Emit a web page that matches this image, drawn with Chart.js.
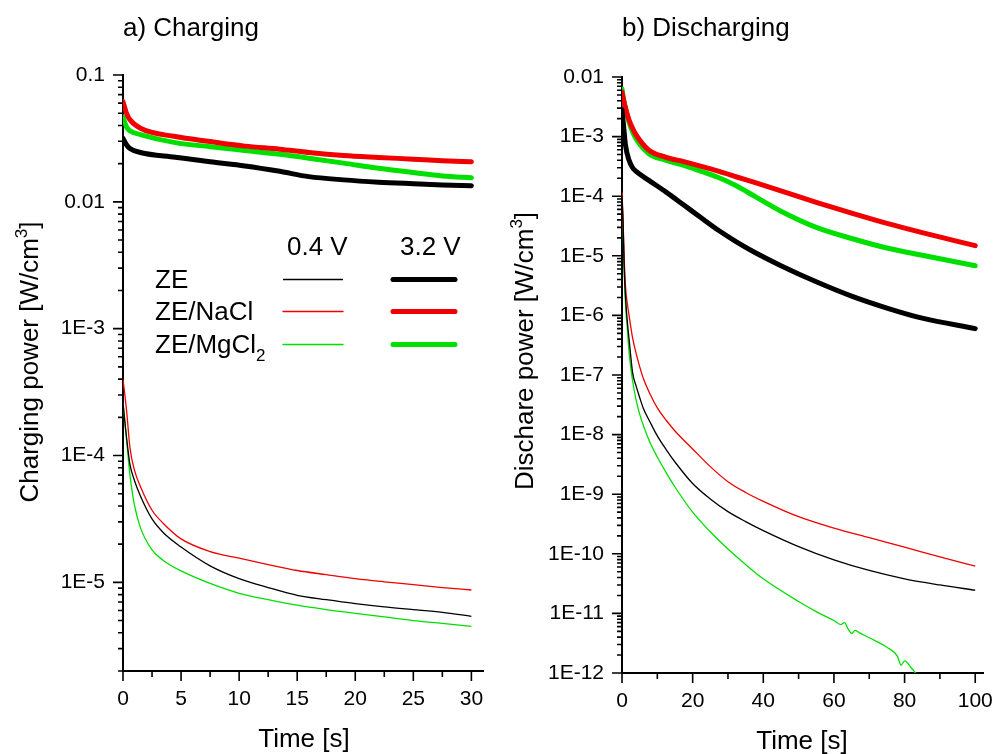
<!DOCTYPE html>
<html>
<head>
<meta charset="utf-8">
<script src="https://cdn.jsdelivr.net/npm/chart.js@4.4.1/dist/chart.umd.min.js"></script>
<style>
  html, body { margin: 0; padding: 0; background: #fff; }
  #wrap { position: relative; width: 993px; height: 754px; overflow: hidden; }
  canvas { position: absolute; top: 0; }
  #chargeChart { left: 0; width: 493px; height: 754px; }
  #dischargeChart { left: 493px; width: 500px; height: 754px; }
</style>
</head>
<body>
<div id="wrap">
  <canvas id="chargeChart" width="493" height="754"></canvas>
  <canvas id="dischargeChart" width="500" height="754"></canvas>
</div>
<script>
// ---- data ----
// a) charging, 3.2 V (thick)
const timeCharge = [0, 0.3, 0.6, 1.5, 4.5, 7.5, 10.5, 13.5, 16, 19, 22, 25, 27.5, 30];
const chargeZE32 = [0.0316, 0.0282, 0.0263, 0.0245, 0.0225, 0.0207, 0.0192, 0.0174, 0.0158, 0.0149, 0.0143, 0.0139, 0.0136, 0.0134];
const chargeNaCl32 = [0.0617, 0.050, 0.0443, 0.038, 0.0327, 0.0299, 0.0275, 0.026, 0.0245, 0.0232, 0.0224, 0.0217, 0.0211, 0.0207];
const chargeMgCl32 = [0.0468, 0.039, 0.0363, 0.0339, 0.0293, 0.0272, 0.0254, 0.0237, 0.0221, 0.0202, 0.0184, 0.017, 0.016, 0.0155];

// a) charging, 0.4 V (thin)
const timeChargeThin = [0, 0.3, 0.6, 1, 1.5, 2.5, 3.5, 5, 7.5, 10, 12.5, 15, 17.5, 20, 22.5, 25, 27.5, 30];
const chargeZE04 = [2.6e-4, 1.4e-4, 8.5e-5, 6.3e-5, 4.8e-5, 3.16e-5, 2.45e-5, 1.9e-5, 1.35e-5, 1.07e-5, 9.1e-6, 7.9e-6, 7.3e-6, 6.8e-6, 6.4e-6, 6.1e-6, 5.8e-6, 5.4e-6];
const chargeNaCl04 = [4.0e-4, 2.3e-4, 1.15e-4, 7.6e-5, 5.7e-5, 3.7e-5, 2.9e-5, 2.2e-5, 1.75e-5, 1.55e-5, 1.38e-5, 1.24e-5, 1.15e-5, 1.07e-5, 1.01e-5, 9.6e-6, 9.1e-6, 8.7e-6];
const chargeMgCl04 = [2.6e-4, 1.35e-4, 7e-5, 4.0e-5, 2.7e-5, 1.8e-5, 1.48e-5, 1.23e-5, 9.8e-6, 8.2e-6, 7.3e-6, 6.6e-6, 6.1e-6, 5.7e-6, 5.35e-6, 5.0e-6, 4.75e-6, 4.5e-6];

// b) discharging, 3.2 V (thick)
const timeDisThick = [0, 0.5, 1, 2, 3, 4, 7.5, 12.5, 17.5, 22.5, 27.5, 32.5, 37.5, 45, 55, 65, 75, 85, 100];
const disZE32 = [2.8e-3, 1.4e-3, 7.1e-4, 4.0e-4, 3.0e-4, 2.6e-4, 1.86e-4, 1.17e-4, 7.1e-5, 4.3e-5, 2.63e-5, 1.7e-5, 1.15e-5, 6.84e-6, 3.67e-6, 2.11e-6, 1.33e-6, 9.0e-7, 6.0e-7];
const disNaCl32 = [5.6e-3, 4.0e-3, 3.0e-3, 1.9e-3, 1.38e-3, 1.07e-3, 6.0e-4, 4.5e-4, 3.8e-4, 3.16e-4, 2.6e-4, 2.1e-4, 1.7e-4, 1.23e-4, 7.9e-5, 5.2e-5, 3.5e-5, 2.45e-5, 1.48e-5];
const disMgCl32 = [6.3e-3, 4.0e-3, 2.95e-3, 1.74e-3, 1.2e-3, 9.1e-4, 5.2e-4, 4.0e-4, 3.3e-4, 2.6e-4, 2.04e-4, 1.48e-4, 1.0e-4, 5.6e-5, 3.0e-5, 1.95e-5, 1.35e-5, 1.02e-5, 6.8e-6];

// b) discharging, 0.4 V (thin)
const timeDisThin = [0, 0.3, 0.6, 1, 1.5, 2, 3, 4, 5, 6, 8, 10, 12.5, 15, 20, 25, 30, 35, 40, 50, 60, 70, 80, 90, 100];
const disZE04 = [1e-4, 3.5e-5, 7e-6, 2e-6, 8e-7, 4e-7, 1.1e-7, 6.5e-8, 4.2e-8, 2.8e-8, 1.6e-8, 9.5e-9, 5.6e-9, 3.47e-9, 1.51e-9, 8.3e-10, 5.1e-10, 3.47e-10, 2.45e-10, 1.32e-10, 7.9e-11, 5.25e-11, 3.8e-11, 3.0e-11, 2.45e-11];
const disNaCl04 = [1.2e-4, 4e-5, 1e-5, 3e-6, 1.6e-6, 1e-6, 4.2e-7, 2.3e-7, 1.38e-7, 8.9e-8, 4.7e-8, 2.8e-8, 1.74e-8, 1.15e-8, 5.75e-9, 2.9e-9, 1.62e-9, 1.07e-9, 7.6e-10, 4.2e-10, 2.7e-10, 1.86e-10, 1.29e-10, 8.9e-11, 6.2e-11];
const timeDisGreen = [0, 0.3, 0.6, 1, 1.5, 2, 3, 4, 5, 6, 8, 10, 12.5, 15, 20, 25, 30, 35, 40, 50, 55, 60, 62, 63, 64, 65, 66, 67, 70, 75, 78, 79, 80, 82, 84];
const disMgCl04 = [1e-4, 3e-5, 6e-6, 1.5e-6, 6e-7, 2.4e-7, 8e-8, 3.8e-8, 2.2e-8, 1.45e-8, 7.2e-9, 4.2e-9, 2.3e-9, 1.32e-9, 5.0e-10, 2.34e-10, 1.2e-10, 6.6e-11, 3.8e-11, 1.58e-11, 1.07e-11, 7.6e-12, 6.5e-12, 7e-12, 5.5e-12, 4.6e-12, 5.2e-12, 4.8e-12, 3.9e-12, 2.7e-12, 1.9e-12, 1.35e-12, 1.6e-12, 1.2e-12, 8.5e-13];

const FONT = 'Arial, "Liberation Sans", sans-serif';
const RED = '#f00000';
const GREEN = '#00e000';
const BLACK = '#000000';

function pairs(xs, ys) {
    return xs.map(function(x, i) { return { x: x, y: ys[i] }; });
}

function thin(data, color) {
    return { data: data, borderColor: color, borderWidth: 1.3, pointRadius: 0, fill: false };
}
function thick(data, color) {
    return { data: data, borderColor: color, borderWidth: 5, pointRadius: 0, fill: false,
             borderCapStyle: 'round', borderJoinStyle: 'round' };
}

// log axis: all 1..9 x 10^n positions, labels only on decades
function logTicks(scale) {
    const lo = Math.floor(Math.log10(scale.min));
    const hi = Math.ceil(Math.log10(scale.max));
    const ticks = [];
    for (let e = lo; e <= hi; e++) {
        for (let d = 1; d <= 9; d++) {
            const v = Number((d * Math.pow(10, e)).toPrecision(6));
            if (v >= scale.min * 0.999 && v <= scale.max * 1.001) ticks.push({ value: v });
        }
    }
    scale.ticks = ticks;
}
function logLabel(v) {
    const e = Math.log10(v);
    if (Math.abs(e - Math.round(e)) > 1e-6) return '';
    const n = Math.round(e);
    return n >= -2 ? String(Number(v.toPrecision(3))) : '1E' + n;
}
function linTicks(maxTick, step) {
    return function(scale) {
        const ticks = [];
        for (let v = 0; v <= maxTick + 1e-9; v += step) ticks.push({ value: v });
        scale.ticks = ticks;
    };
}

// draw text made of pieces (superscript / subscript)
function richText(ctx, parts, x, y, align) {
    let total = 0;
    parts.forEach(function(p) { ctx.font = p.font; p.w = ctx.measureText(p.text).width; total += p.w; });
    let cx = align === 'center' ? x - total / 2 : x;
    parts.forEach(function(p) {
        ctx.font = p.font;
        ctx.fillText(p.text, cx, y + (p.dy || 0));
        cx += p.w;
    });
}

// Origin-like tick marks: long for labelled ticks, short for minor ones
const originAxes = {
    id: 'originAxes',
    afterDraw: function(chart) {
        const ctx = chart.ctx, area = chart.chartArea;
        const xs = chart.scales.x, ys = chart.scales.y;
        ctx.save();
        ctx.strokeStyle = '#000';
        ctx.lineWidth = 1.6;
        ctx.beginPath();
        xs.ticks.forEach(function(t) {
            const p = xs.getPixelForValue(t.value);
            const len = t.label ? 10 : 6;
            ctx.moveTo(p, area.bottom);
            ctx.lineTo(p, area.bottom + len);
        });
        ys.ticks.forEach(function(t) {
            const p = ys.getPixelForValue(t.value);
            const len = t.label ? 10 : 5;
            ctx.moveTo(area.left - len, p);
            ctx.lineTo(area.left, p);
        });
        ctx.stroke();
        ctx.restore();
    }
};

const panelText = {
    id: 'panelText',
    afterDraw: function(chart, args, opts) {
        const ctx = chart.ctx;
        const big = '26px ' + FONT;
        const sup = '17px ' + FONT;
        ctx.save();
        ctx.fillStyle = '#000';
        ctx.textBaseline = 'alphabetic';
        ctx.textAlign = 'left';

        ctx.font = big;
        ctx.fillText(opts.title, opts.titleX, 36);

        richText(ctx, [{ text: 'Time [s]', font: big }], opts.xTitleX, opts.xTitleY, 'center');

        ctx.translate(opts.yTitleX, opts.yTitleY);
        ctx.rotate(-Math.PI / 2);
        richText(ctx, [
            { text: opts.yTitle + ' [W/cm', font: big },
            { text: '3', font: sup, dy: -11 },
            { text: ']', font: big }
        ], 0, 0, 'center');
        ctx.restore();

        if (!opts.legend) return;
        const lg = opts.legend;
        ctx.save();
        ctx.fillStyle = '#000';
        ctx.font = '26px ' + FONT;
        ctx.fillText('0.4 V', lg.col1, lg.headY);
        ctx.fillText('3.2 V', lg.col2, lg.headY);
        lg.rows.forEach(function(r) {
            ctx.fillStyle = '#000';
            richText(ctx, r.parts.map(function(p) {
                return { text: p.text, font: p.sub ? '17px ' + FONT : '26px ' + FONT, dy: p.sub ? 8 : 0 };
            }), lg.labelX, r.y, 'left');
            const ly = r.y - 8.5;
            ctx.strokeStyle = r.color;
            ctx.lineWidth = 1.3;
            ctx.beginPath();
            ctx.moveTo(lg.thin[0], ly); ctx.lineTo(lg.thin[1], ly);
            ctx.stroke();
            ctx.lineWidth = 5;
            ctx.lineCap = 'round';
            ctx.beginPath();
            ctx.moveTo(lg.thick[0], ly); ctx.lineTo(lg.thick[1], ly);
            ctx.stroke();
        });
        ctx.restore();
    }
};

function axisOptions(cfg) {
    const tickFont = { family: FONT, size: 21 };
    return {
        x: {
            type: 'linear', min: 0, max: cfg.xMax,
            afterBuildTicks: linTicks(cfg.xLast, cfg.xMinor),
            afterFit: function(s) {
                s.height = cfg.xHeight;
                s.paddingLeft = 0;
                s.paddingRight = 0;
            },
            grid: { display: false, drawTicks: false },
            border: { display: true, color: '#000', width: 2 },
            ticks: {
                autoSkip: false, maxRotation: 0, padding: 16, color: '#000', font: tickFont,
                callback: function(v) { return Math.abs(v % cfg.xMajor) < 1e-9 ? String(v) : ''; }
            }
        },
        y: {
            type: 'logarithmic', min: cfg.yMin, max: cfg.yMax,
            afterBuildTicks: logTicks,
            afterFit: function(s) {
                s.width = cfg.yWidth;
                s.paddingTop = 0;
                s.paddingBottom = 0;
            },
            grid: { display: false, drawTicks: false },
            border: { display: true, color: '#000', width: 2 },
            ticks: { autoSkip: false, padding: 18, color: '#000', font: tickFont, callback: logLabel }
        }
    };
}

function baseOptions(padTop, scales, text) {
    return {
        responsive: false,
        animation: false,
        devicePixelRatio: 1,
        layout: { padding: { top: padTop, right: 10, left: 0, bottom: 0 } },
        elements: { line: { cubicInterpolationMode: 'monotone' } },
        plugins: { legend: { display: false }, tooltip: { enabled: false }, panelText: text },
        scales: scales
    };
}

document.addEventListener('DOMContentLoaded', function() {
    // a) Charging
    new Chart(document.getElementById('chargeChart').getContext('2d'), {
        type: 'line',
        data: {
            datasets: [
                thin(pairs(timeChargeThin, chargeZE04), BLACK),
                thin(pairs(timeChargeThin, chargeNaCl04), RED),
                thin(pairs(timeChargeThin, chargeMgCl04), GREEN),
                thick(pairs(timeCharge, chargeZE32), BLACK),
                thick(pairs(timeCharge, chargeNaCl32), RED),
                thick(pairs(timeCharge, chargeMgCl32), GREEN)
            ]
        },
        options: baseOptions(75,
            axisOptions({ xMax: 31, xLast: 30, xMinor: 2.5, xMajor: 5, xHeight: 83,
                          yMin: 2e-6, yMax: 0.1, yWidth: 123 }),
            {
                title: 'a) Charging', titleX: 123,
                xTitleX: 304, xTitleY: 747,
                yTitle: 'Charging power', yTitleX: 38, yTitleY: 362,
                legend: {
                    col1: 287, col2: 400, headY: 255, labelX: 155,
                    thin: [283, 343], thick: [393, 455],
                    rows: [
                        { parts: [{ text: 'ZE' }], color: BLACK, y: 288 },
                        { parts: [{ text: 'ZE/NaCl' }], color: RED, y: 320 },
                        { parts: [{ text: 'ZE/MgCl' }, { text: '2', sub: true }], color: GREEN, y: 353 }
                    ]
                }
            }),
        plugins: [originAxes, panelText]
    });

    // b) Discharging
    new Chart(document.getElementById('dischargeChart').getContext('2d'), {
        type: 'line',
        data: {
            datasets: [
                thin(pairs(timeDisThin, disZE04), BLACK),
                thin(pairs(timeDisThin, disNaCl04), RED),
                thin(pairs(timeDisGreen, disMgCl04), GREEN),
                thick(pairs(timeDisThick, disZE32), BLACK),
                thick(pairs(timeDisThick, disNaCl32), RED),
                thick(pairs(timeDisThick, disMgCl32), GREEN)
            ]
        },
        options: baseOptions(77,
            axisOptions({ xMax: 102.2, xLast: 100, xMinor: 10, xMajor: 20, xHeight: 81,
                          yMin: 1e-12, yMax: 0.01, yWidth: 129 }),
            {
                title: 'b) Discharging', titleX: 129,
                xTitleX: 309, xTitleY: 749,
                yTitle: 'Dischare power', yTitleX: 40, yTitleY: 351
            }),
        plugins: [originAxes, panelText]
    });
});
</script>
</body>
</html>
